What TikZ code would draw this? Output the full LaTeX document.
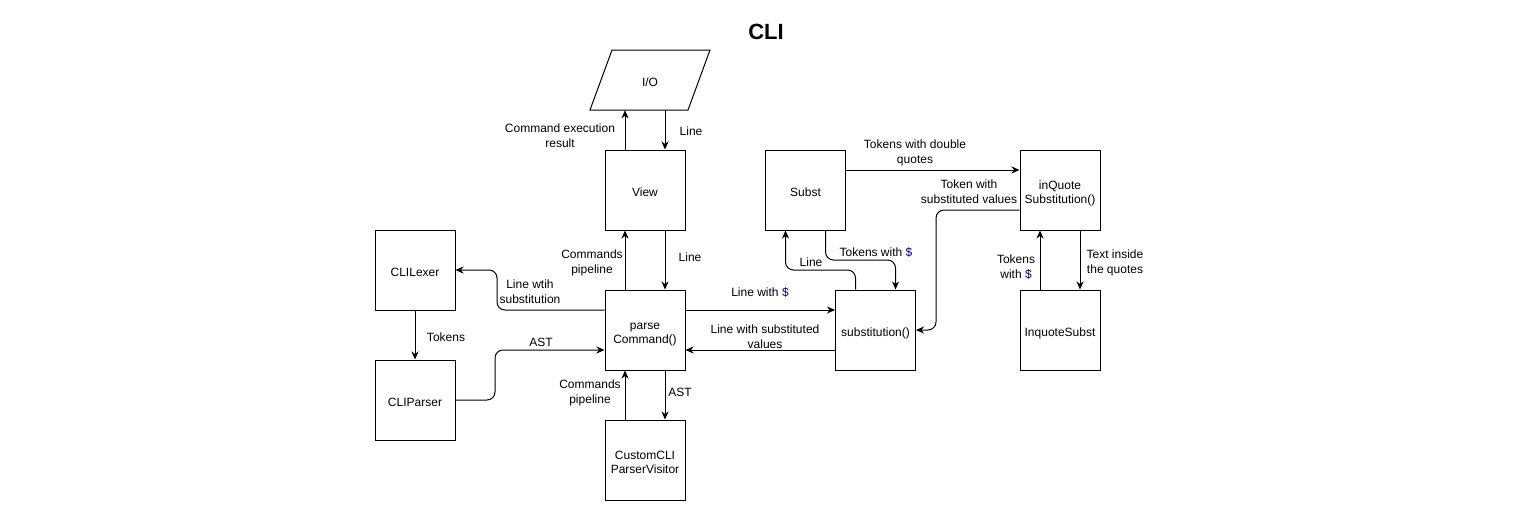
\documentclass[tikz,border=0pt]{standalone}
\usepackage{fontspec}
\setmainfont{Liberation Sans}
\usetikzlibrary{arrows.meta}
\definecolor{dollar}{RGB}{0,0,160}
\newcommand{\dol}{\textcolor{dollar}{\$}}
\newcommand{\bxt}{\rule{0pt}{17.6pt}}
\newcommand{\bxb}{\rule[-5pt]{0pt}{5pt}}
\newcommand{\lbt}{\rule{0pt}{11.6pt}}
\newcommand{\lbb}{\rule[-3pt]{0pt}{3pt}}
\begin{document}
\begin{tikzpicture}[x=1pt,y=-1pt,
  font=\fontsize{12}{15}\selectfont,
  box/.style={draw=black,line width=1pt,minimum width=80pt,minimum height=80pt,inner sep=0pt,align=center,font=\fontsize{12}{14.5}\selectfont},
  lbl/.style={inner sep=0pt,align=center},
  arr/.style={draw=black,line width=1pt,-{Stealth[length=8pt,width=7pt,inset=2.5pt]}},
  conn/.style={arr,rounded corners=8pt}]
\useasboundingbox (0,0) rectangle (1531,512);
\fill[white] (0,0) rectangle (1531,512);

\node[font=\fontsize{22}{24}\selectfont\bfseries] (title) at (766,32) {CLI};

% I/O parallelogram
\draw[line width=1pt] (612,50) -- (710,50) -- (688,110) -- (590,110) -- cycle;
\node[minimum width=120pt,minimum height=60pt,inner sep=0pt] (io) at (650,80) {\bxt I/O\bxb};

\node[box] (view) at (645,190) {\bxt View\bxb};
\node[box] (parse) at (645,330) {\bxt parse\\Command()\bxb};
\node[box] (custom) at (645,460) {\bxt CustomCLI\\ParserVisitor\bxb};
\node[box] (lexer) at (415,270) {\bxt CLILexer\bxb};
\node[box] (parser) at (415,400) {\bxt CLIParser\bxb};
\node[box] (subst) at (805.5,190) {\bxt Subst\bxb};
\node[box] (substn) at (875.5,330) {\bxt substitution()\bxb};
\node[box] (inq) at (1060,190) {\bxt inQuote\\Substitution()\bxb};
\node[box] (inqs) at (1060,330) {\bxt InquoteSubst\bxb};

% connectors
\draw[arr] ([xshift=-20pt]view.north) -- ([xshift=-20pt]view.north |- io.south);
\draw[arr] ([xshift=20pt]view.north |- io.south) -- ([xshift=20pt]view.north);
\draw[arr] ([xshift=-20pt]parse.north) -- ([xshift=-20pt]view.south);
\draw[arr] ([xshift=20pt]view.south) -- ([xshift=20pt]parse.north);
\draw[conn] ([yshift=20pt]parse.west) -| (497,270) -- (lexer.east);
\draw[arr] (lexer.south) -- (parser.north);
\draw[conn] (parser.east) -| (495,350) -- ([yshift=-20pt]parse.west);
\draw[arr] ([xshift=-20pt]custom.north) -- ([xshift=-20pt]parse.south);
\draw[arr] ([xshift=20pt]parse.south) -- ([xshift=20pt]custom.north);
\draw[arr] ([yshift=20pt]parse.east) -- ([yshift=20pt]parse.east -| substn.west);
\draw[arr] ([yshift=-20pt]substn.west) -- ([yshift=-20pt]substn.west -| parse.east);
\draw[arr] ([yshift=20pt]subst.east) -- ([yshift=20pt]inq.west);
\draw[conn] ([yshift=-20pt]inq.west) -| (936,330) -- (substn.east);
\draw[conn] ([xshift=20pt]subst.south) |- (895.5,260) -- ([xshift=20pt]substn.north);
\draw[conn] ([xshift=-20pt]substn.north) |- (785.5,270) -- ([xshift=-20pt]subst.south);
\draw[arr] ([xshift=-20pt]inqs.north) -- ([xshift=-20pt]inq.south);
\draw[arr] ([xshift=20pt]inq.south) -- ([xshift=20pt]inqs.north);

% labels
\node[lbl] (l1) at (560,135.5) {\lbt Command execution\\result\lbb};
\node[lbl] (l2) at (691,131) {\lbt Line\lbb};
\node[lbl] (l3) at (592,262) {\lbt Commands\\pipeline\lbb};
\node[lbl] (l4) at (690,257) {\lbt Line\lbb};
\node[lbl] (l5) at (530,292) {\lbt Line wtih\\substitution\lbb};
\node[lbl] (l6) at (446,337) {\lbt Tokens\lbb};
\node[lbl] (l7) at (541,342) {\lbt AST\lbb};
\node[lbl] (l8) at (590,392) {\lbt Commands\\pipeline\lbb};
\node[lbl] (l9) at (680,392) {\lbt AST\lbb};
\node[lbl] (l10) at (760,292) {\lbt Line with \dol\lbb};
\node[lbl] (l11) at (765,337) {\lbt Line with substituted\\values\lbb};
\node[lbl] (l12) at (915,152) {\lbt Tokens with double\\quotes\lbb};
\node[lbl] (l13) at (969,192) {\lbt Token with\\substituted values\lbb};
\node[lbl] (l14) at (876,252) {\lbt Tokens with \dol\lbb};
\node[lbl] (l15) at (811,262) {\lbt Line\lbb};
\node[lbl] (l16) at (1016,267) {\lbt Tokens\\with \dol\lbb};
\node[lbl] (l17) at (1115,262) {\lbt Text inside\\the quotes\lbb};
\end{tikzpicture}
\end{document}
